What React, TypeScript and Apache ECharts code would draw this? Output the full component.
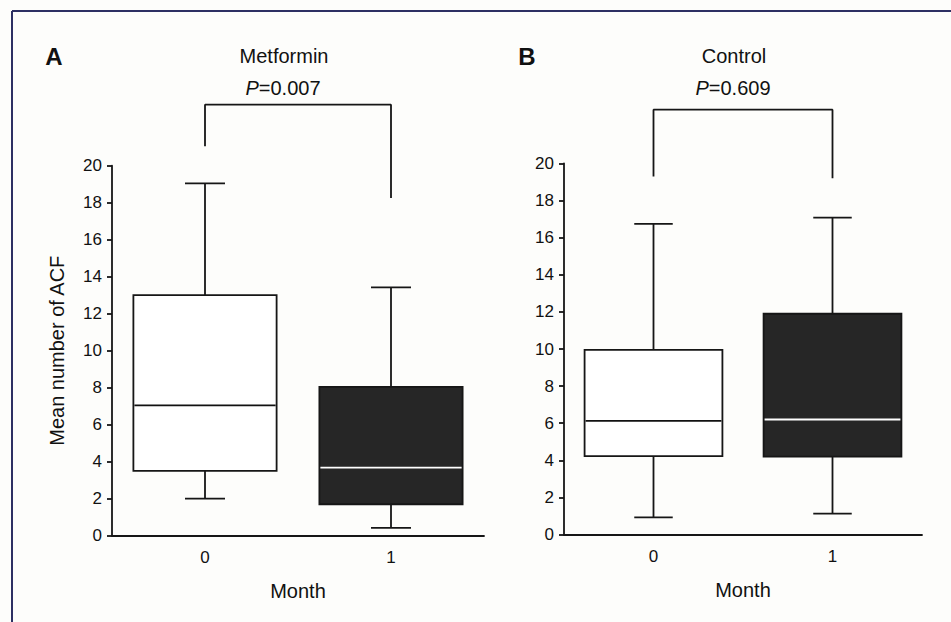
import React, { useEffect, useRef } from "react";
import * as echarts from "echarts";

const months = ["0", "1"];
const yTicks = { min: 0, max: 20, interval: 2 };
// [min, Q1, median, Q3, max]
const metforminBoxes = [
  [2.0, 3.5, 7.05, 13.0, 19.05],
  [0.42, 1.7, 3.68, 8.04, 13.42],
];
const controlBoxes = [
  [0.92, 4.22, 6.13, 9.95, 16.75],
  [1.12, 4.2, 6.2, 11.9, 17.08],
];
const boxFills = ["#ffffff", "#262626"];
const medianColors = ["#111111", "#ffffff"];
// bracket: [left leg bottom, top, right leg bottom]
const metforminBracket = [21.05, 23.3, 18.25];
const controlBracket = [19.3, 22.9, 19.2];

const FONT = "'Liberation Sans', Arial, sans-serif";
const INK = "#161616";

function renderBox(params: any, api: any) {
  const x = api.value(0);
  const mn = api.value(1), q1 = api.value(2), md = api.value(3), q3 = api.value(4), mx = api.value(5);
  const band = api.size([1, 0])[0];
  const bw = band * 0.77;
  const cw = band * 0.215;
  const pMin = api.coord([x, mn]);
  const pMax = api.coord([x, mx]);
  const pQ1 = api.coord([x, q1]);
  const pQ3 = api.coord([x, q3]);
  const pMd = api.coord([x, md]);
  const cx = pMin[0];
  const idx = params.dataIndex;
  const lw = 1.8;
  return {
    type: "group",
    children: [
      { type: "line", shape: { x1: cx, y1: pMax[1], x2: cx, y2: pMin[1] }, style: { stroke: INK, lineWidth: lw } },
      { type: "line", shape: { x1: cx - cw / 2, y1: pMax[1], x2: cx + cw / 2, y2: pMax[1] }, style: { stroke: INK, lineWidth: lw } },
      { type: "line", shape: { x1: cx - cw / 2, y1: pMin[1], x2: cx + cw / 2, y2: pMin[1] }, style: { stroke: INK, lineWidth: lw } },
      {
        type: "rect",
        shape: { x: cx - bw / 2, y: pQ3[1], width: bw, height: pQ1[1] - pQ3[1] },
        style: { fill: boxFills[idx], stroke: INK, lineWidth: lw },
      },
      {
        type: "line",
        shape: { x1: cx - bw / 2 + 1, y1: pMd[1], x2: cx + bw / 2 - 1, y2: pMd[1] },
        style: { stroke: medianColors[idx], lineWidth: lw },
      },
    ],
  };
}

function boxData(arr: number[][]) {
  return arr.map((b, i) => [i, ...b]);
}

function bracketData(b: number[]) {
  return [
    [0, b[0]],
    [0, b[1]],
    [1, b[1]],
    [1, b[2]],
  ];
}

export default function App() {
  const ref = useRef<HTMLDivElement>(null);
  useEffect(() => {
    if (!ref.current) return;
    const chart = echarts.init(ref.current, null, { renderer: "svg" });
    const yAxisBase = {
      type: "value",
      min: yTicks.min,
      max: yTicks.max,
      interval: yTicks.interval,
      splitLine: { show: false },
      axisLine: { show: true, lineStyle: { color: INK, width: 1.8 } },
      axisTick: { show: true, inside: false, length: 5, lineStyle: { color: INK, width: 1.8 } },
      axisLabel: { color: "#111", fontSize: 17, fontFamily: FONT, margin: 10 },
    };
    const xAxisBase = {
      type: "category",
      data: months,
      axisLine: { show: true, lineStyle: { color: INK, width: 1.8 } },
      axisTick: { show: false },
      axisLabel: { color: "#111", fontSize: 17, fontFamily: FONT, margin: 13 },
      name: "Month",
      nameLocation: "middle",
      nameGap: 45,
      nameTextStyle: { color: "#111", fontSize: 20, fontFamily: FONT },
    };
    const option: any = {
      animation: false,
      backgroundColor: "#fdfdfb",
      grid: [
        { left: 112, top: 165.7, width: 372, height: 370 },
        { left: 564, top: 163.5, width: 358, height: 371 },
      ],
      xAxis: [
        { ...xAxisBase, gridIndex: 0 },
        { ...xAxisBase, gridIndex: 1 },
      ],
      yAxis: [
        {
          ...yAxisBase,
          gridIndex: 0,
          name: "Mean number of ACF",
          nameLocation: "middle",
          nameGap: 45,
          nameTextStyle: { color: "#111", fontSize: 20, fontFamily: FONT },
        },
        { ...yAxisBase, gridIndex: 1 },
      ],
      series: [
        {
          type: "custom",
          name: "Metformin",
          xAxisIndex: 0,
          yAxisIndex: 0,
          renderItem: renderBox,
          data: boxData(metforminBoxes),
          clip: false,
        },
        {
          type: "custom",
          name: "Control",
          xAxisIndex: 1,
          yAxisIndex: 1,
          renderItem: renderBox,
          data: boxData(controlBoxes),
          clip: false,
        },
        {
          type: "line",
          xAxisIndex: 0,
          yAxisIndex: 0,
          data: bracketData(metforminBracket),
          symbol: "none",
          clip: false,
          lineStyle: { color: INK, width: 1.8 },
          silent: true,
        },
        {
          type: "line",
          xAxisIndex: 1,
          yAxisIndex: 1,
          data: bracketData(controlBracket),
          symbol: "none",
          clip: false,
          lineStyle: { color: INK, width: 1.8 },
          silent: true,
        },
      ],
      graphic: [
        { type: "line", shape: { x1: 12, y1: 11, x2: 12, y2: 622 }, style: { stroke: "#2d3063", lineWidth: 2 } },
        { type: "line", shape: { x1: 12, y1: 11, x2: 951, y2: 11 }, style: { stroke: "#2d3063", lineWidth: 2 } },
        {
          type: "text",
          x: 54,
          y: 56,
          style: { text: "A", font: `bold 24px ${FONT}`, fill: "#111", align: "center", verticalAlign: "middle" },
        },
        {
          type: "text",
          x: 284,
          y: 56,
          style: { text: "Metformin", font: `20px ${FONT}`, fill: "#111", align: "center", verticalAlign: "middle" },
        },
        {
          type: "text",
          x: 283,
          y: 88,
          style: {
            text: "{i|P}=0.007",
            font: `20px ${FONT}`,
            fill: "#111",
            align: "center",
            verticalAlign: "middle",
            rich: { i: { fontStyle: "italic", fontSize: 20, fontFamily: FONT, fill: "#111" } },
          },
        },
        {
          type: "text",
          x: 527,
          y: 56,
          style: { text: "B", font: `bold 24px ${FONT}`, fill: "#111", align: "center", verticalAlign: "middle" },
        },
        {
          type: "text",
          x: 734,
          y: 56,
          style: { text: "Control", font: `20px ${FONT}`, fill: "#111", align: "center", verticalAlign: "middle" },
        },
        {
          type: "text",
          x: 733,
          y: 88,
          style: {
            text: "{i|P}=0.609",
            font: `20px ${FONT}`,
            fill: "#111",
            align: "center",
            verticalAlign: "middle",
            rich: { i: { fontStyle: "italic", fontSize: 20, fontFamily: FONT, fill: "#111" } },
          },
        },
      ],
    };
    chart.setOption(option);
    return () => chart.dispose();
  }, []);
  return (
    <div
      ref={ref}
      style={{ position: "absolute", left: 0, top: 0, width: 951, height: 622 }}
    />
  );
}
